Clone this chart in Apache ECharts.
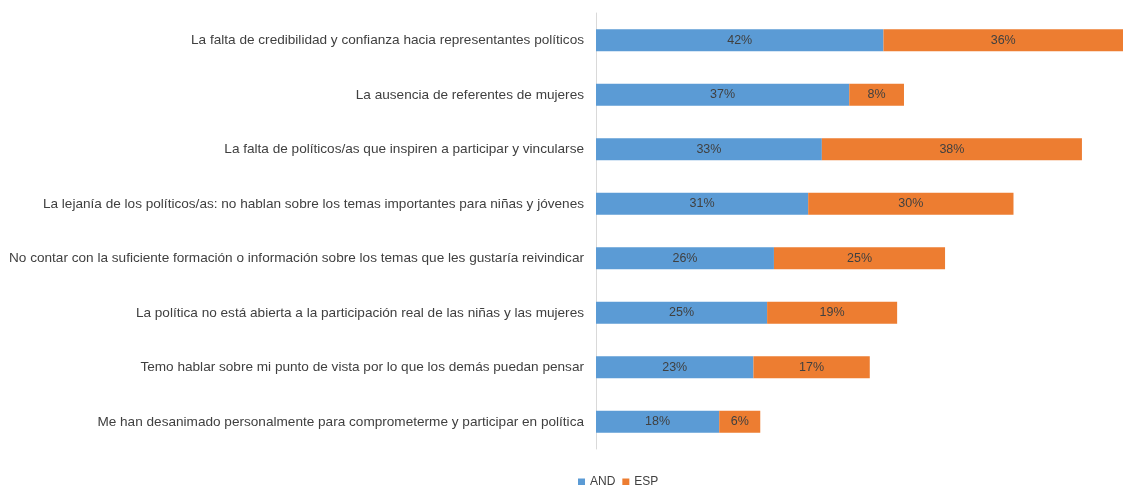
<!DOCTYPE html>
<html>
<head>
<meta charset="utf-8">
<script src="https://cdn.jsdelivr.net/npm/echarts@6/dist/echarts.min.js"></script>
<style>
  html, body { margin: 0; padding: 0; background: #fff; }
  #container { width: 1123px; height: 485px; }
</style>
</head>
<body>
<div id="container"></div>
<script>
// categories, top to bottom
var categories = [
    'La falta de credibilidad y confianza hacia representantes políticos',
    'La ausencia de referentes de mujeres',
    'La falta de políticos/as que inspiren a participar y vincularse',
    'La lejanía de los políticos/as: no hablan sobre los temas importantes para niñas y jóvenes',
    'No contar con la suficiente formación o información sobre los temas que les gustaría reivindicar',
    'La política no está abierta a la participación real de las niñas y las mujeres',
    'Temo hablar sobre mi punto de vista por lo que los demás puedan pensar',
    'Me han desanimado personalmente para comprometerme y participar en política'
];
var andValues = [42, 37, 33, 31, 26, 25, 23, 18];
var espValues = [36, 8, 38, 30, 25, 19, 17, 6];

var textColor = '#404040';
var font = '"Liberation Sans", Arial, sans-serif';

var dom = document.getElementById('container');
var myChart = echarts.init(dom);

var barLabel = {
    show: true,
    position: 'inside',
    color: textColor,
    fontFamily: font,
    fontSize: 12.5,
    formatter: '{c}%'
};

var option = {
    animation: false,
    textStyle: { fontFamily: font },
    grid: { left: 596, right: 0, top: 13, bottom: 36 },
    legend: {
        top: 471,
        left: 573,
        itemWidth: 7,
        itemHeight: 7,
        itemGap: 7,
        icon: 'rect',
        textStyle: { color: textColor, fontSize: 12, fontFamily: font },
        data: ['AND', 'ESP']
    },
    xAxis: {
        type: 'value',
        min: 0,
        max: 77,
        show: false
    },
    yAxis: {
        type: 'category',
        inverse: true,
        data: categories,
        axisLine: { lineStyle: { color: '#d9d9d9', width: 1 } },
        axisTick: { show: false },
        axisLabel: { color: textColor, fontSize: 13.6, margin: 12, fontFamily: font }
    },
    series: [
        {
            name: 'AND',
            type: 'bar',
            stack: 'total',
            barWidth: 22,
            itemStyle: { color: '#5B9BD5' },
            label: barLabel,
            data: andValues
        },
        {
            name: 'ESP',
            type: 'bar',
            stack: 'total',
            barWidth: 22,
            itemStyle: { color: '#ED7D31' },
            label: barLabel,
            data: espValues
        }
    ]
};

myChart.setOption(option);
</script>
</body>
</html>
